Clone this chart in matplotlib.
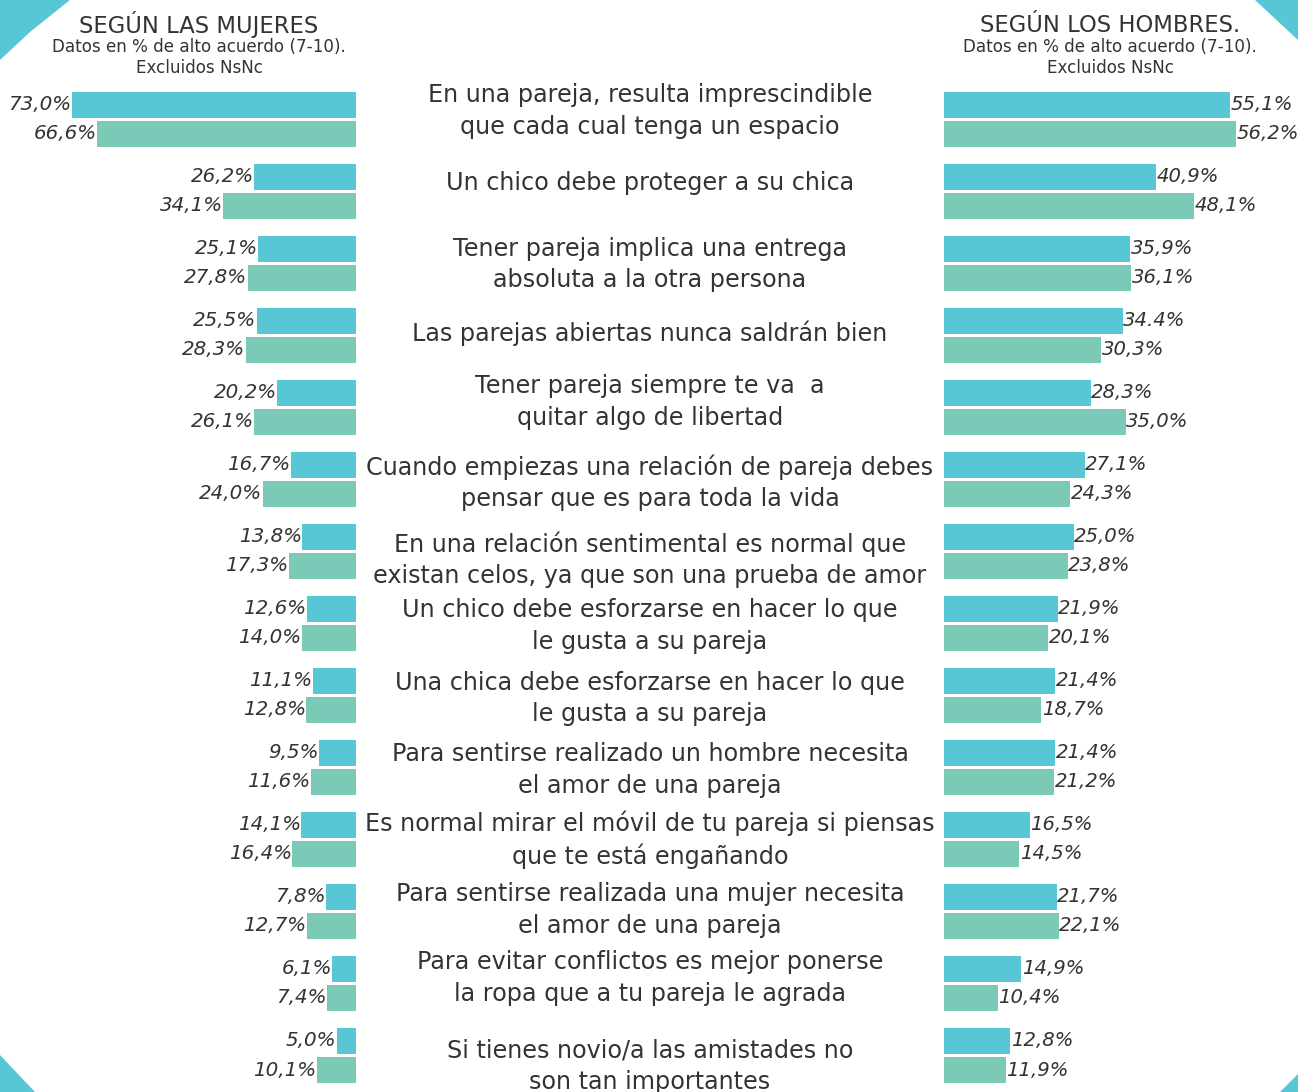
import matplotlib.pyplot as plt
from matplotlib.patches import Polygon

# Data
statements = [
    "En una pareja, resulta imprescindible\nque cada cual tenga un espacio",
    "Un chico debe proteger a su chica",
    "Tener pareja implica una entrega\nabsoluta a la otra persona",
    "Las parejas abiertas nunca saldrán bien",
    "Tener pareja siempre te va  a\nquitar algo de libertad",
    "Cuando empiezas una relación de pareja debes\npensar que es para toda la vida",
    "En una relación sentimental es normal que\nexistan celos, ya que son una prueba de amor",
    "Un chico debe esforzarse en hacer lo que\nle gusta a su pareja",
    "Una chica debe esforzarse en hacer lo que\nle gusta a su pareja",
    "Para sentirse realizado un hombre necesita\nel amor de una pareja",
    "Es normal mirar el móvil de tu pareja si piensas\nque te está engañando",
    "Para sentirse realizada una mujer necesita\nel amor de una pareja",
    "Para evitar conflictos es mejor ponerse\nla ropa que a tu pareja le agrada",
    "Si tienes novio/a las amistades no\nson tan importantes",
]
women_blue = [73.0, 26.2, 25.1, 25.5, 20.2, 16.7, 13.8, 12.6, 11.1, 9.5, 14.1, 7.8, 6.1, 5.0]
women_green = [66.6, 34.1, 27.8, 28.3, 26.1, 24.0, 17.3, 14.0, 12.8, 11.6, 16.4, 12.7, 7.4, 10.1]
men_blue = [55.1, 40.9, 35.9, 34.4, 28.3, 27.1, 25.0, 21.9, 21.4, 21.4, 16.5, 21.7, 14.9, 12.8]
men_green = [56.2, 48.1, 36.1, 30.3, 35.0, 24.3, 23.8, 20.1, 18.7, 21.2, 14.5, 22.1, 10.4, 11.9]

BLUE = "#58c7d5"
GREEN = "#7bc9b6"
TXT = "#333333"

# small vertical nudges (px) of the middle texts, as in the original layout
text_nudge = [-8.5, -8.5, 1, -2, -5.5, 3.5, 8.5, 2.5, 3, 2.5, 0, -1.5, -5.5, 10.5]


def fmt(v, sep=","):
    return f"{v:.1f}".replace(".", sep) + "%"


W, H = 1298, 1092
fig = plt.figure(figsize=(W / 100, H / 100), dpi=100)

# background axes in pixel coords for decorations
bg = fig.add_axes([0, 0, 1, 1])
bg.set_xlim(0, W)
bg.set_ylim(H, 0)
bg.axis("off")
for pts in [[(0, 0), (70, 0), (30, 32), (0, 60)],
            [(1255, 0), (1298, 0), (1298, 40)],
            [(0, 1055), (0, 1092), (35, 1092)],
            [(1298, 1074), (1298, 1092), (1280, 1092)]]:
    bg.add_patch(Polygon(pts, closed=True, color=BLUE, lw=0))

# headers
for xc, title in [(199, "SEGÚN LAS MUJERES"), (1110, "SEGÚN LOS HOMBRES.")]:
    bg.text(xc, 25, title, ha="center", va="center", fontsize=16.3, color=TXT)
    bg.text(xc, 47, "Datos en % de alto acuerdo (7-10).", ha="center", va="center",
            fontsize=12.1, color=TXT)
    bg.text(xc, 68, "Excluidos NsNc", ha="center", va="center", fontsize=12.1, color=TXT)

pitch = 72
y0 = 119.5
ylim = ((H - y0) / pitch, -y0 / pitch)
idx = list(range(len(statements)))
bh = 26 / pitch
off = 14.5 / pitch

# women (left, bars grow leftwards)
axl = fig.add_axes([0, 0, 356 / W, 1])
axl.set_xlim(356 / 3.89, 0)
axl.set_ylim(*ylim)
axl.axis("off")
axl.barh([i - off for i in idx], women_blue, height=bh, color=BLUE)
axl.barh([i + off for i in idx], women_green, height=bh, color=GREEN)
for i in idx:
    axl.text(women_blue[i] + 0.1, i - off, fmt(women_blue[i]), ha="right", va="center",
             fontsize=14.3, style="italic", color=TXT)
    axl.text(women_green[i] + 0.1, i + off, fmt(women_green[i]), ha="right", va="center",
             fontsize=14.3, style="italic", color=TXT)

# men (right)
axr = fig.add_axes([944 / W, 0, (W - 944) / W, 1])
axr.set_xlim(0, (W - 944) / 5.19)
axr.set_ylim(*ylim)
axr.axis("off")
axr.barh([i - off for i in idx], men_blue, height=bh, color=BLUE)
axr.barh([i + off for i in idx], men_green, height=bh, color=GREEN)
for i in idx:
    lab = fmt(men_blue[i], "." if men_blue[i] == 34.4 else ",")
    axr.text(men_blue[i] + 0.1, i - off, lab, ha="left", va="center",
             fontsize=14.1, style="italic", color=TXT)
    axr.text(men_green[i] + 0.1, i + off, fmt(men_green[i]), ha="left", va="center",
             fontsize=14.1, style="italic", color=TXT)

# statements in the middle
axc = fig.add_axes([356 / W, 0, (944 - 356) / W, 1])
axc.set_xlim(0, 1)
axc.set_ylim(*ylim)
axc.axis("off")
for i, s in enumerate(statements):
    axc.text(0.5, i + text_nudge[i] / pitch, s, ha="center", va="center", fontsize=17.2,
             color=TXT, linespacing=1.38)

fig.savefig("out.png", dpi=100)
